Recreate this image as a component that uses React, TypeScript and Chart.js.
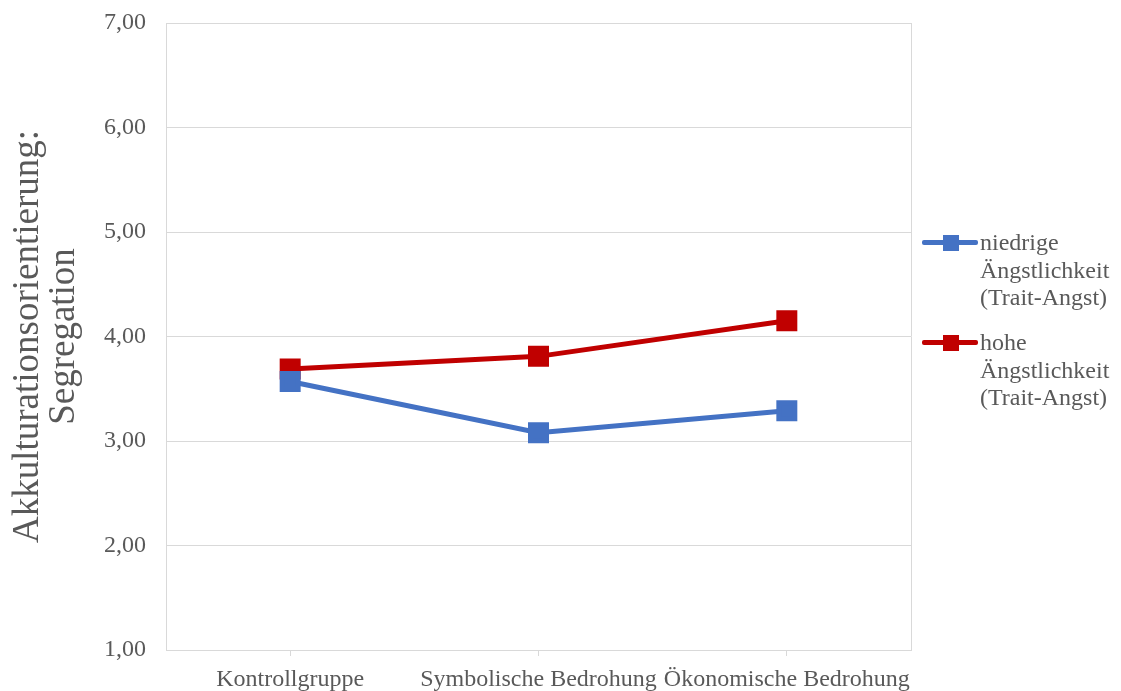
import React, { useEffect, useRef } from 'react';
import { Chart, registerables } from 'chart.js';
Chart.register(...registerables);

const categories = ['Kontrollgruppe', 'Symbolische Bedrohung', 'Ökonomische Bedrohung'];
const lowAnxiety = [3.57, 3.08, 3.29];
const highAnxiety = [3.69, 3.81, 4.15];
const seriesLabels = [
  ['niedrige', 'Ängstlichkeit', '(Trait-Angst)'],
  ['hohe', 'Ängstlichkeit', '(Trait-Angst)'],
];
const seriesColors = ['#4472C4', '#C00000'];
const yTitle = ['Akkulturationsorientierung:', 'Segregation'];
const yMin = 1;
const yMax = 7;
const yStep = 1;

const FONT = "'Liberation Serif', 'Times New Roman', serif";
const TEXT = '#595959';
const GRID = '#d9d9d9';

const frame = {
  id: 'frame',
  beforeDatasetsDraw(chart: any) {
    const { ctx, chartArea } = chart;
    ctx.save();
    ctx.strokeStyle = GRID;
    ctx.lineWidth = 1;
    ctx.beginPath();
    ctx.moveTo(chartArea.right + 0.5, chartArea.top);
    ctx.lineTo(chartArea.right + 0.5, chartArea.bottom);
    ctx.stroke();
    ctx.restore();
  },
};

export default function App() {
  const ref = useRef<HTMLCanvasElement | null>(null);
  useEffect(() => {
    const canvas = ref.current!;
    const chart = new Chart(canvas, {
      type: 'line',
      data: {
        labels: categories,
        datasets: [lowAnxiety, highAnxiety].map((d, i) => ({
          label: seriesLabels[i].join(' '),
          data: d,
          borderColor: seriesColors[i],
          backgroundColor: seriesColors[i],
          borderWidth: 5,
          pointStyle: 'rect',
          pointRadius: 11.3,
          pointHoverRadius: 11.3,
          tension: 0,
          fill: false,
        })),
      },
      options: {
        responsive: false,
        animation: false,
        layout: { padding: { left: 0, right: 210, top: 23, bottom: 0 } },
        plugins: { legend: { display: false }, tooltip: { enabled: false } },
        scales: {
          x: {
            offset: true,
            grid: { display: true, drawOnChartArea: false, offset: false, color: GRID, tickLength: 6 },
            border: { display: true, color: GRID, width: 1 },
            ticks: { color: TEXT, font: { family: FONT, size: 24 }, padding: 9, maxRotation: 0, autoSkip: false },
            afterFit: (s: any) => { s.height = 41; s.paddingLeft = 0; s.paddingRight = 0; },
          },
          y: {
            min: yMin,
            max: yMax,
            grid: { color: GRID, drawTicks: false, lineWidth: 1 },
            border: { display: true, color: GRID, width: 1 },
            ticks: {
              stepSize: yStep,
              color: TEXT,
              font: { family: FONT, size: 24 },
              padding: 20,
              callback: (v: any) => Number(v).toFixed(2).replace('.', ','),
            },
            title: {
              display: true,
              text: yTitle,
              color: TEXT,
              font: { family: FONT, size: 37, lineHeight: 0.97 },
              padding: { top: 10, bottom: 0 },
            },
            afterFit: (s: any) => { s.width = 166; s.paddingTop = 0; s.paddingBottom = 0; },
          },
        },
      },
      plugins: [frame],
    });
    return () => chart.destroy();
  }, []);

  return (
    <div style={{ position: 'fixed', left: 0, top: 0, width: 1121, height: 691, background: '#fff' }}>
      <canvas ref={ref} width={1121} height={691} style={{ width: 1121, height: 691 }} />
      {seriesLabels.map((lines, i) => (
        <div key={i} style={{ position: 'absolute', left: 922, top: 229 + i * 100, width: 199 }}>
          <div style={{ position: 'absolute', left: 0, top: 11, width: 56, height: 5, background: seriesColors[i], borderRadius: 2 }} />
          <div style={{ position: 'absolute', left: 21, top: 5.5, width: 16, height: 16, background: seriesColors[i] }} />
          <div style={{ position: 'absolute', left: 58, top: 0, fontFamily: FONT, fontSize: 24, lineHeight: '27.5px', color: TEXT, whiteSpace: 'nowrap' }}>
            {lines.map((l, j) => (<div key={j}>{l}</div>))}
          </div>
        </div>
      ))}
    </div>
  );
}
